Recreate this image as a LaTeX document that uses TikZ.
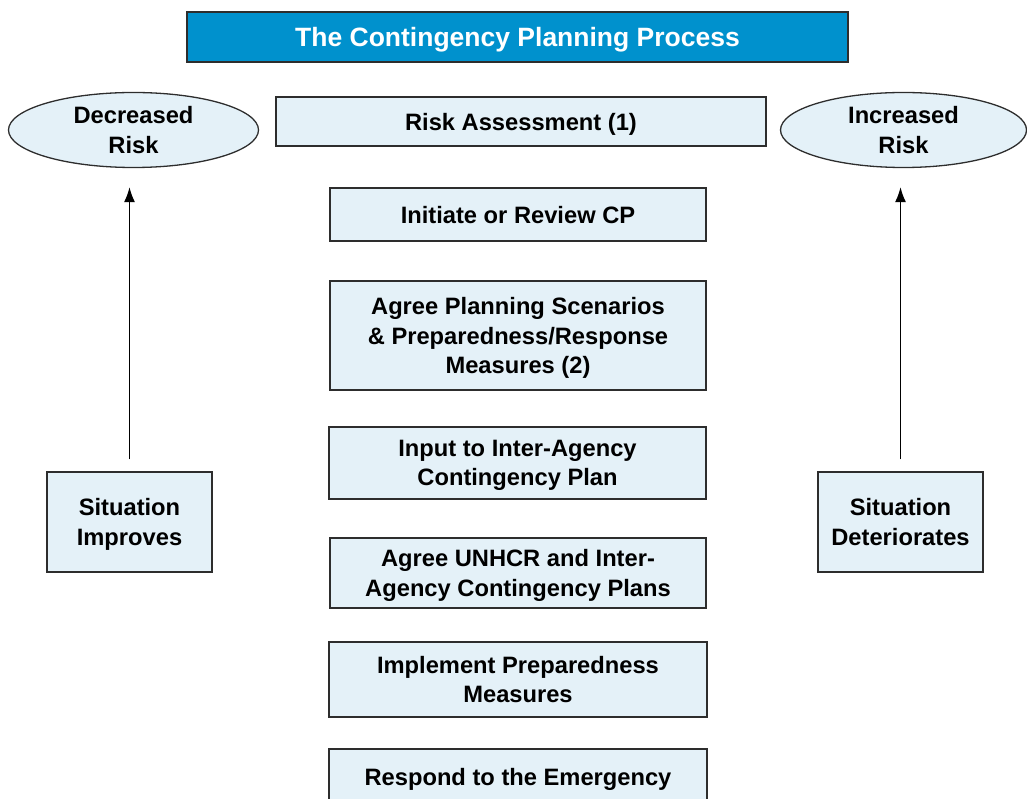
\documentclass[tikz,border=0pt]{standalone}
\usepackage{fontspec}
\setmainfont{Liberation Sans}
\usepackage{xcolor}
\usetikzlibrary{shapes.geometric,arrows.meta}
\definecolor{titleblue}{RGB}{0,145,205}
\definecolor{boxfill}{RGB}{228,241,248}
\definecolor{edgegray}{RGB}{45,45,45}

\begin{document}
\begin{tikzpicture}[x=1pt,y=-1pt,
  stepbox/.style={draw=edgegray,line width=1.3pt,fill=boxfill,inner sep=0pt,
    align=center,font=\fontsize{23.7}{29.5}\selectfont\bfseries,text depth=-2pt},
  riskoval/.style={stepbox,ellipse,text depth=-5pt},
  uparrow/.style={line width=1.4pt,-{Latex[length=15pt,width=11pt]}}]
\useasboundingbox (0,0) rectangle (1027,799);
\clip (0,0) rectangle (1027,799);
% title
\node[stepbox,fill=titleblue,text=white,font=\fontsize{26.5}{30}\selectfont\bfseries,
  text depth=-3pt,minimum width=661,minimum height=50] (title) at (517.5,37) {The Contingency Planning Process};
% the steps in the middle
\node[stepbox,minimum width=490,minimum height=49] (risk) at (521,121.5) {Risk Assessment (1)};
\node[stepbox,minimum width=376,minimum height=53] (review) at (518,214.5) {Initiate or Review CP};
\node[stepbox,minimum width=376,minimum height=109] (scen) at (518,335.5) {Agree Planning Scenarios\\ \& Preparedness/Response\\ Measures (2)};
\node[stepbox,minimum width=377,minimum height=72] (input) at (517.5,463) {Input to Inter-Agency\\ Contingency Plan};
\node[stepbox,minimum width=376,minimum height=70] (agree) at (518,573) {Agree UNHCR and Inter-\\ Agency Contingency Plans};
\node[stepbox,minimum width=378,minimum height=75] (impl) at (518,679.5) {Implement Preparedness\\ Measures};
\node[stepbox,minimum width=378,minimum height=56] (resp) at (518,777) {Respond to the Emergency};
% left: risk goes down
\node[riskoval,minimum width=250,minimum height=75] (dec) at (133.5,130) {Decreased\\ Risk};
\node[stepbox,minimum width=165,minimum height=100] (better) at (129.5,522) {Situation\\ Improves};
\draw[uparrow,shorten <=12pt,shorten >=19pt] (better.north) -- (better.north |- dec.south);
% right: risk goes up
\node[riskoval,minimum width=246,minimum height=75] (inc) at (903.5,130) {Increased\\ Risk};
\node[stepbox,minimum width=165,minimum height=100] (worse) at (900.5,522) {Situation\\ Deteriorates};
\draw[uparrow,shorten <=12pt,shorten >=19pt] (worse.north) -- (worse.north |- inc.south);
\end{tikzpicture}
\end{document}
